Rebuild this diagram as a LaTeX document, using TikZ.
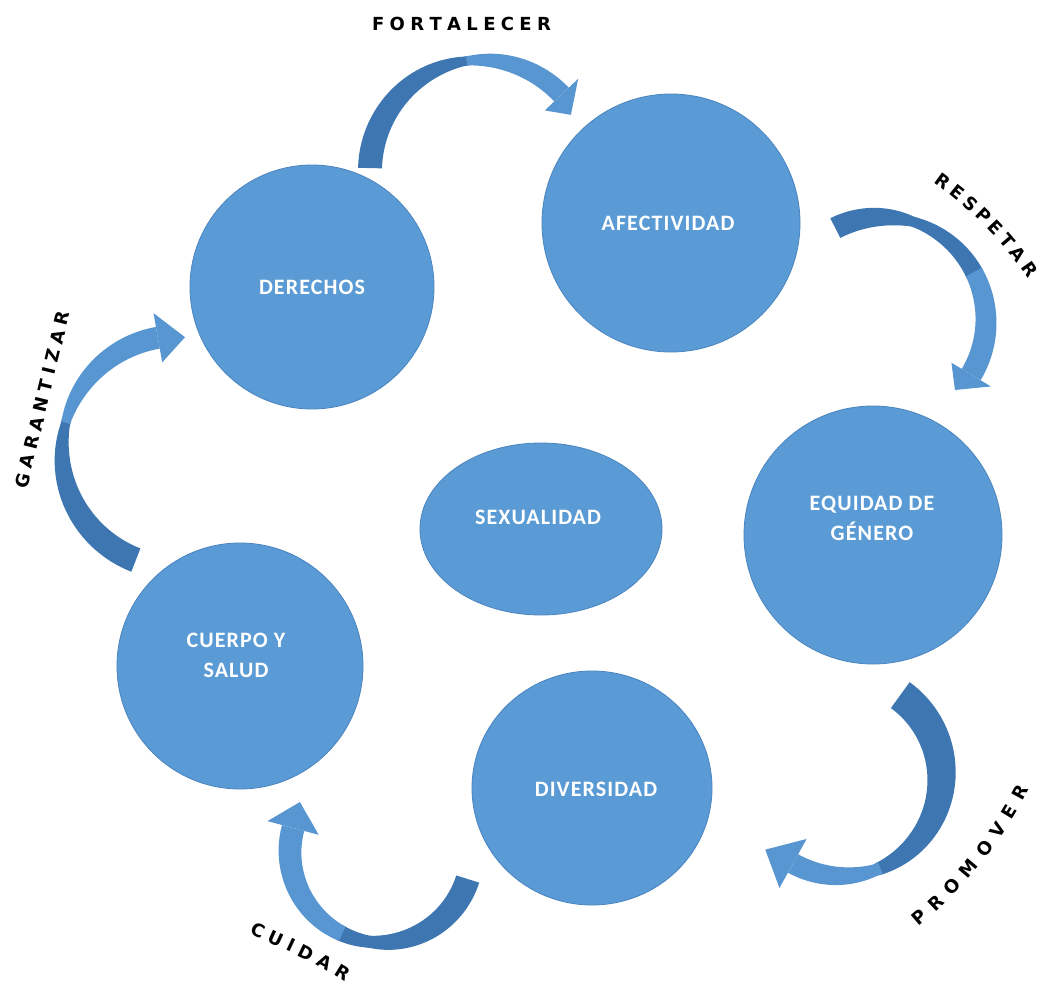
\documentclass[tikz,border=0pt]{standalone}
\usepackage{fontspec}
\setmainfont{Carlito}
\newfontfamily\cf{Carlito}[LetterSpace=5]
\newfontfamily\labfam{DejaVu Sans}
\usetikzlibrary{shapes.geometric,decorations.text}
\definecolor{blobc}{HTML}{5B9BD5}
\definecolor{blobline}{HTML}{4A84BF}
\definecolor{arrdark}{HTML}{3E76B1}
\definecolor{arrlight}{HTML}{5896D2}
\newcommand\lfont{\labfam\fontsize{18}{18}\selectfont\bfseries}
\pgfmathdeclarefunction{bw}{1}{%
  \pgfmathparse{((#1)<(\wT))?((\wM)+((\wA)-(\wM))*(1-((#1)/(\wT))*((#1)/(\wT)))):((\wM)+((\wB)-(\wM))*(1-((1-(#1))/(1-(\wT)))*((1-(#1))/(1-(\wT)))))}%
}
\newcommand\setarrow[5]{\def\acx{#1}\def\acy{#2}\def\aR{#3}\def\aA{#4}\def\aB{#5}}
\newcommand\setwidth[4]{\def\wA{#1}\def\wM{#2}\def\wB{#3}\def\wT{#4}}
\newcommand\bandpart[3]{%
  \fill[#3] plot[smooth, variable=\t, domain=#1:#2, samples=30]
    ({\acx+(\aR+0.5*bw(\t))*cos((\aA)+((\aB)-(\aA))*\t)},{\acy+(\aR+0.5*bw(\t))*sin((\aA)+((\aB)-(\aA))*\t)})
    -- plot[smooth, variable=\t, domain=#2:#1, samples=30]
    ({\acx+(\aR-0.5*bw(\t))*cos((\aA)+((\aB)-(\aA))*\t)},{\acy+(\aR-0.5*bw(\t))*sin((\aA)+((\aB)-(\aA))*\t)})
    -- cycle;}
\newcommand\arrowhead[4]{%
  \fill[#4] ({\acx+(\aR+0.5*(#1))*cos(\aB)},{\acy+(\aR+0.5*(#1))*sin(\aB)})
    -- ({\acx+(\aR+(#3))*cos(#2)},{\acy+(\aR+(#3))*sin(#2)})
    -- ({\acx+(\aR-0.5*(#1))*cos(\aB)},{\acy+(\aR-0.5*(#1))*sin(\aB)}) -- cycle;}
\begin{document}
\begin{tikzpicture}[x=1pt,y=-1pt,
  blob/.style={circle, fill=blobc, draw=blobline, line width=0.8pt, inner sep=0pt},
  eblob/.style={ellipse, fill=blobc, draw=blobline, line width=0.8pt, inner sep=0pt},
  ctext/.style={text=white, font=\cf\fontsize{22}{30}\selectfont\bfseries, align=center, inner sep=0pt},
  lab/.style={decorate, decoration={text along path, text align=fit to path, text color=black}}]
\useasboundingbox (0,0) rectangle (1042,988);
\fill[white] (0,0) rectangle (1042,988);

% circles
\node[blob, minimum size=244pt] (der) at (312,287) {};
\node[blob, minimum size=258pt] (afe) at (671,223) {};
\node[blob, minimum size=258pt] (equ) at (873,535) {};
\node[eblob, minimum width=242pt, minimum height=172pt] (sex) at (541,529) {};
\node[blob, minimum size=246pt] (cue) at (240,666) {};
\node[eblob, minimum width=240pt, minimum height=234pt] (div) at (592,788) {};

% circle texts
\node[ctext] (dert) at (312,287) {DERECHOS};
\node[ctext] (afet) at (668,223) {AFECTIVIDAD};
\node[ctext] (equt) at (872,518) {EQUIDAD DE\\GÉNERO};
\node[ctext] (sext) at (538,517) {SEXUALIDAD};
\node[ctext] (cuet) at (236,655) {CUERPO Y\\SALUD};
\node[ctext] (divt) at (596,789) {DIVERSIDAD};

% FORTALECER arrow
\setarrow{481}{171}{111}{181.5}{316.5}
\setwidth{24}{9}{20}{0.6}
\bandpart{0}{0.61}{arrdark}
\bandpart{0.6}{1}{arrlight}
\arrowhead{46}{328}{-5}{arrlight}

% RESPETAR arrow
\setarrow{882}{321}{104}{243.3}{391}
\setwidth{22}{10}{22}{0.3}
\bandpart{0}{0.61}{arrdark}
\bandpart{0.6}{1}{arrlight}
\arrowhead{46}{403.4}{-3.6}{arrlight}

% PROMOVER arrow
\setarrow{841.5}{776}{100}{-54}{119}
\setwidth{32}{12}{21}{0.72}
\bandpart{0}{0.71}{arrdark}
\bandpart{0.7}{1}{arrlight}
\arrowhead{56}{136}{6}{arrlight}

% CUIDAR arrow
\setarrow{381}{851.5}{91}{17.6}{195}
\setwidth{24}{12}{23}{0.45}
\bandpart{0}{0.56}{arrdark}
\bandpart{0.55}{1}{arrlight}
\arrowhead{53}{211.4}{4}{arrlight}

% GARANTIZAR arrow
\setarrow{178}{452}{116}{111.3}{260}
\setwidth{25}{9}{22}{0.56}
\bandpart{0}{0.57}{arrdark}
\bandpart{0.56}{1}{arrlight}
\arrowhead{50}{273.5}{-1}{arrlight}

% labels
\coordinate (fs) at (372,30);
\coordinate (fe) at (551,30);
\coordinate (rs) at (933.7,182.7);
\coordinate (re) at (1027.9,278.7);
\coordinate (ps) at (918.6,926.8);
\coordinate (pe) at (1029.2,789.7);
\coordinate (cs) at (249,933);
\coordinate (ce) at (345,982);
\coordinate (gs) at (27,489.5);
\coordinate (ge) at (70,313.5);
{\lfont
\path[lab, decoration={text={|\lfont|FORTALECER}}] (fs) -- (fe);
\path[lab, decoration={text={|\lfont|RESPETAR}}] (rs) .. controls (970.7,208.6) and (1002.6,241.2) .. (re);
\path[lab, decoration={text={|\lfont|PROMOVER}}] (ps) .. controls (964.2,888.9) and (1001.8,842.3) .. (pe);
\path[lab, decoration={text={|\lfont|CUIDAR}}] (cs) .. controls (316,964) .. (ce);
\path[lab, decoration={text={|\lfont|GARANTIZAR}}] (gs) -- (ge);
}
\end{tikzpicture}
\end{document}
